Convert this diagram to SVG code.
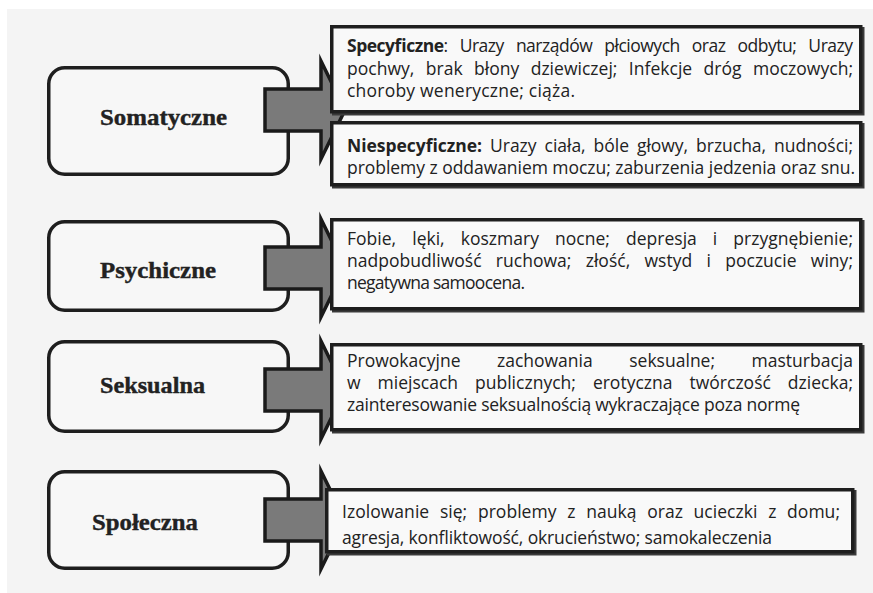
<svg xmlns="http://www.w3.org/2000/svg" width="873" height="593" viewBox="0 0 873 593">
<style>
.bg{fill:#f4f4f4}
.cat{fill:#f7f7f7;stroke:#1e1e1e;stroke-width:3.5}
.lbl{font-family:"Liberation Serif","Times New Roman",serif;font-weight:bold;font-size:24px;fill:#222;stroke:#222;stroke-width:0.4}
.arr{fill:#7a7a7a;stroke:#1a1a1a;stroke-width:3.5;stroke-linejoin:miter;stroke-miterlimit:12}
.tb{fill:#f9f9f9;stroke:#1e1e1e;stroke-width:3.5}
.sh{fill:none;stroke:#3a3a3a;stroke-width:3.5}
.t{font-family:"Open Sans","Noto Sans",sans-serif;font-size:17.5px;font-weight:500;fill:#222}
.b{font-weight:bold}
</style>
<rect x="0" y="0" width="873" height="593" fill="#ffffff"/>
<rect class="bg" x="7" y="9" width="866" height="584"/>

<g id="somatyczne">
<rect class="cat" x="48.75" y="67.75" width="239.5" height="106.5" rx="16"/>
</g>
<g id="psychiczne">
<rect class="cat" x="48.75" y="221.75" width="239.5" height="88.5" rx="16"/>
</g>
<g id="seksualna">
<rect class="cat" x="48.75" y="341.75" width="239.5" height="89.5" rx="16"/>
</g>
<g id="spoleczna">
<rect class="cat" x="48.75" y="471.75" width="239.5" height="96.5" rx="16"/>
</g>

<g id="connectors">
<polygon class="arr" points="265,89 321,89 321,61 345,110 321,159 321,131 265,131"/>
<polygon class="arr" points="265,247 321,247 321,219 345,268 321,317 321,289 265,289"/>
<polygon class="arr" points="265,369 321,369 321,341 345,390 321,439 321,411 265,411"/>
<polygon class="arr" points="265,499 321,499 321,471 345,520 321,569 321,541 265,541"/>
</g>

<g id="somatyczne-label">
<text class="lbl" x="100" y="125" textLength="127" lengthAdjust="spacingAndGlyphs">Somatyczne</text>
</g>
<g id="psychiczne-label">
<text class="lbl" x="100" y="278" textLength="116" lengthAdjust="spacingAndGlyphs">Psychiczne</text>
</g>
<g id="seksualna-label">
<text class="lbl" x="100" y="393" textLength="105" lengthAdjust="spacingAndGlyphs">Seksualna</text>
</g>
<g id="spoleczna-label">
<text class="lbl" x="92" y="530" textLength="106" lengthAdjust="spacingAndGlyphs">Społeczna</text>
</g>

<g id="specyficzne">
<rect class="sh" x="333.75" y="28.75" width="529" height="85"/>
<rect class="tb" x="331.75" y="26.75" width="529" height="85"/>
<text class="t" x="347" y="52" word-spacing="8" textLength="506" lengthAdjust="spacing"><tspan class="b">Specyficzne</tspan>: Urazy narządów płciowych oraz odbytu; Urazy</text>
<text class="t" x="347" y="75" word-spacing="6.8" textLength="506" lengthAdjust="spacing">pochwy, brak błony dziewiczej; Infekcje dróg moczowych;</text>
<text class="t" x="347" y="97" textLength="228" lengthAdjust="spacing">choroby weneryczne; ciąża.</text>
</g>

<g id="niespecyficzne">
<rect class="sh" x="333.75" y="124.75" width="529" height="62"/>
<rect class="tb" x="331.75" y="122.75" width="529" height="62"/>
<text class="t" x="347" y="152" word-spacing="3.5" textLength="506" lengthAdjust="spacing"><tspan class="b">Niespecyficzne:</tspan> Urazy ciała, bóle głowy, brzucha, nudności;</text>
<text class="t" x="347" y="174" textLength="508" lengthAdjust="spacing">problemy z oddawaniem moczu; zaburzenia jedzenia oraz snu.</text>
</g>

<g id="psychiczne-opis">
<rect class="sh" x="333.75" y="221.75" width="529" height="89"/>
<rect class="tb" x="331.75" y="219.75" width="529" height="89"/>
<text class="t" x="347" y="245" word-spacing="11.5" textLength="506" lengthAdjust="spacing">Fobie, lęki, koszmary nocne; depresja i przygnębienie;</text>
<text class="t" x="347" y="267" word-spacing="9.7" textLength="506" lengthAdjust="spacing">nadpobudliwość ruchowa; złość, wstyd i poczucie winy;</text>
<text class="t" x="347" y="289" textLength="178" lengthAdjust="spacing">negatywna samoocena.</text>
</g>

<g id="seksualna-opis">
<rect class="sh" x="333.75" y="346.75" width="529" height="85"/>
<rect class="tb" x="331.75" y="344.75" width="529" height="85"/>
<text class="t" x="347" y="367" word-spacing="31.9" textLength="506" lengthAdjust="spacing">Prowokacyjne zachowania seksualne; masturbacja</text>
<text class="t" x="347" y="389" word-spacing="12.4" textLength="506" lengthAdjust="spacing">w miejscach publicznych; erotyczna twórczość dziecka;</text>
<text class="t" x="347" y="411" textLength="453" lengthAdjust="spacing">zainteresowanie seksualnością wykraczające poza normę</text>
</g>

<g id="spoleczna-opis">
<rect class="sh" x="328.75" y="491.75" width="526" height="62"/>
<rect class="tb" x="326.75" y="489.75" width="526" height="62"/>
<text class="t" x="342" y="518" word-spacing="6.1" textLength="498" lengthAdjust="spacing">Izolowanie się; problemy z nauką oraz ucieczki z domu;</text>
<text class="t" x="342" y="544" textLength="430" lengthAdjust="spacing">agresja, konfliktowość, okrucieństwo; samokaleczenia</text>
</g>
</svg>
